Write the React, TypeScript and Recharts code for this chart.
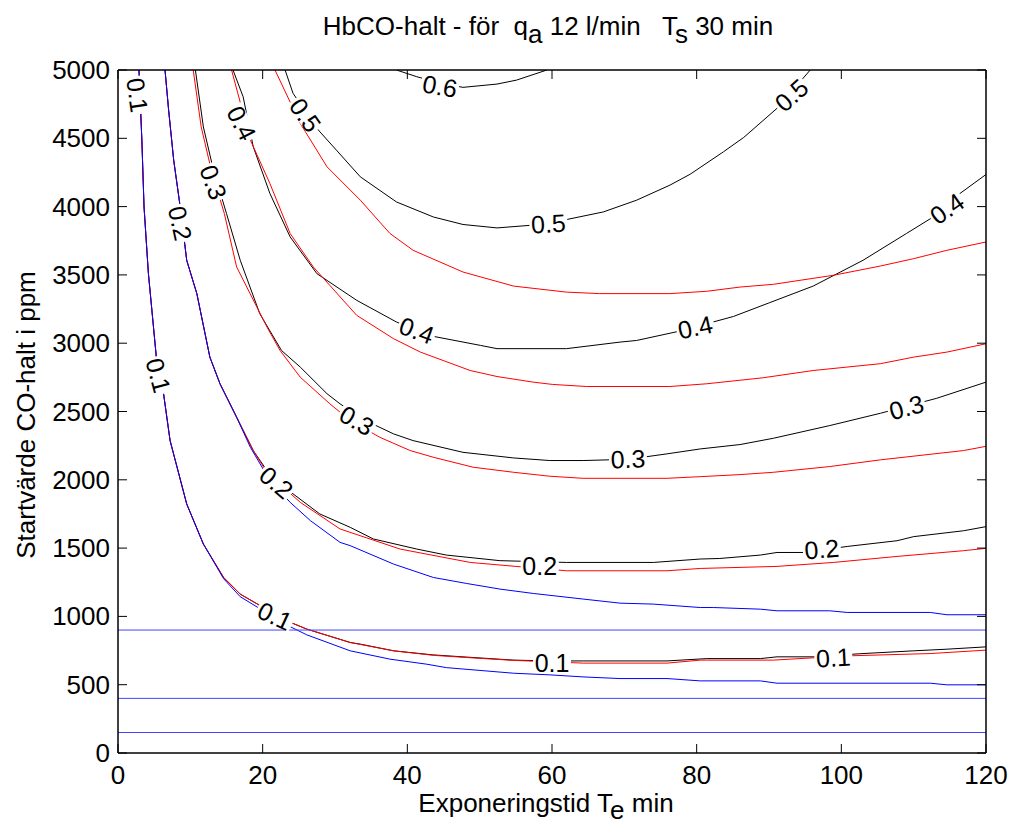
import React from "react";
import { ComposedChart, Line, Scatter, XAxis, YAxis } from "recharts";

const FONT = "Arial, 'Liberation Sans', Helvetica, sans-serif";
const FS = 26;
const LABEL_FS = 25;

type Pt = [number, number];

const X_TICKS = [0, 20, 40, 60, 80, 100, 120];
const Y_TICKS = [0, 500, 1000, 1500, 2000, 2500, 3000, 3500, 4000, 4500, 5000];

// horizontal reference levels (ppm)
const H_LEVELS = [900, 400, 150];

// contour lines, [exposure min, start ppm]
const BLACK_01: Pt[] = [
  [2.9, 5000], [3.3, 4487], [3.6, 3998], [4.2, 3512], [5.3, 2898], [6.3, 2630], [7.2, 2287],
  [9.5, 1823], [11.8, 1530], [14.6, 1285], [16.9, 1163], [20.1, 1065], [23.3, 968], [26.1, 907],
  [32.1, 809], [33.5, 797], [38.1, 748], [43.6, 718], [49.1, 699], [54.7, 680], [59.7, 674],
  [64.3, 674], [75.9, 674], [81.4, 691], [88.8, 691], [91.1, 704], [96.1, 704], [103.0, 728],
  [110.0, 748], [114.6, 760], [120, 777],
];
const RED_01: Pt[] = [
  [2.9, 5000], [3.3, 4487], [3.6, 3998], [4.2, 3512], [5.3, 2898], [6.3, 2630], [7.2, 2287],
  [9.5, 1823], [11.8, 1530], [14.6, 1285], [16.9, 1163], [20.1, 1065], [23.3, 968], [26.1, 907],
  [32.1, 809], [38.1, 748], [43.6, 715], [49.1, 696], [54.7, 678], [64.3, 658], [75.9, 658],
  [80.5, 680], [90.6, 680], [100.8, 711], [112.3, 728], [120, 753],
];
const BLUE_01: Pt[] = [
  [2.9, 5000], [3.3, 4487], [3.6, 3998], [4.2, 3512], [5.3, 2898], [6.3, 2630], [7.2, 2287],
  [9.5, 1823], [11.8, 1530], [14.6, 1276], [16.9, 1144], [20.1, 1041], [23.3, 938], [26.1, 865],
  [32.1, 748], [37.6, 687], [42.7, 650], [45.4, 625], [54.7, 584], [59.7, 572], [64.3, 557],
  [69.4, 545], [75.9, 545], [80.5, 528], [88.8, 528], [91.1, 511], [112.3, 511], [114.6, 499],
  [120, 499],
];

const BLACK_02: Pt[] = [
  [6.5, 5000], [7.0, 4706], [7.7, 4340], [8.6, 3998], [9.5, 3607], [10.9, 3363], [12.7, 2898],
  [14.1, 2703], [16.4, 2458], [18.7, 2214], [20.6, 2067], [24.2, 1897], [27.9, 1750], [32.1, 1652],
  [35.3, 1567], [41.3, 1493], [45.4, 1449], [52.8, 1408], [62.0, 1395], [74.0, 1395], [80.5, 1420],
  [83.2, 1424], [88.8, 1449], [91.1, 1468], [94.8, 1468], [100.8, 1512], [107.7, 1554],
  [110.0, 1584], [116.9, 1627], [120, 1657],
];
const RED_02: Pt[] = [
  [6.5, 5000], [7.0, 4706], [7.7, 4340], [8.6, 3998], [9.5, 3607], [10.9, 3363], [12.7, 2898],
  [14.1, 2703], [16.4, 2458], [18.7, 2214], [20.6, 2053], [25.2, 1835], [30.7, 1640], [39.0, 1493],
  [48.7, 1395], [62.0, 1334], [75.9, 1334], [80.5, 1351], [91.1, 1366], [98.9, 1395],
  [107.7, 1439], [116.9, 1481], [120, 1498],
];
const BLUE_02: Pt[] = [
  [6.5, 5000], [7.0, 4706], [7.7, 4340], [8.6, 3998], [9.5, 3607], [10.9, 3363], [12.7, 2898],
  [14.1, 2703], [16.4, 2458], [18.3, 2238], [21.0, 1994], [23.8, 1835], [26.6, 1701], [30.7, 1542],
  [32.1, 1518], [38.1, 1383], [43.6, 1285], [48.2, 1241], [52.8, 1200], [57.4, 1168], [64.3, 1127],
  [69.4, 1097], [74.0, 1090], [80.5, 1065], [82.3, 1065], [88.8, 1053], [91.1, 1041], [98.4, 1041],
  [100.8, 1029], [112.3, 1029], [114.6, 1012], [120, 1012],
];

const BLACK_03: Pt[] = [
  [10.7, 5000], [11.8, 4584], [13.2, 4267], [15.0, 3949], [16.9, 3607], [19.6, 3216], [22.6, 2947],
  [25.2, 2825], [28.9, 2630], [30.7, 2556], [34.2, 2434], [38.1, 2336], [40.8, 2287], [47.7, 2201],
  [54.7, 2160], [59.7, 2141], [64.3, 2141], [70.5, 2150], [75.9, 2190], [80.5, 2226], [86.0, 2258],
  [90.6, 2304], [98.4, 2397], [105.4, 2487], [113.2, 2597], [120, 2715],
];
const RED_03: Pt[] = [
  [10.4, 5000], [11.5, 4584], [12.9, 4267], [14.7, 3949], [16.4, 3558], [20.6, 3118], [22.4, 2947],
  [25.2, 2751], [29.3, 2556], [32.1, 2434], [36.2, 2311], [40.4, 2214], [43.6, 2165], [49.1, 2092],
  [54.7, 2055], [59.7, 2026], [64.3, 2011], [75.9, 2011], [80.5, 2023], [86.0, 2038], [90.6, 2055],
  [98.4, 2097], [105.4, 2146], [116.9, 2214], [120, 2245],
];

const BLACK_04: Pt[] = [
  [15.9, 5000], [17.3, 4804], [18.7, 4438], [21.0, 4096], [23.8, 3778], [27.5, 3509], [33.0, 3314],
  [38.5, 3155], [43.6, 3050], [50.1, 2984], [52.4, 2960], [62.0, 2960], [69.4, 3008], [71.7, 3020],
  [77.7, 3089], [85.1, 3196], [90.1, 3297], [96.1, 3418], [103.0, 3607], [109.0, 3803],
  [112.7, 3924], [116.4, 4096], [120, 4235],
];
const RED_04: Pt[] = [
  [15.7, 5000], [18.3, 4487], [21.0, 4169], [23.8, 3803], [27.0, 3558], [33.0, 3204], [38.1, 3033],
  [41.8, 2935], [48.7, 2800], [52.4, 2756], [57.4, 2715], [60.1, 2698], [64.8, 2683], [76.3, 2683],
  [81.4, 2703], [89.2, 2747], [96.1, 2800], [105.4, 2850], [110.0, 2898], [114.6, 2935],
  [120, 2996],
];

const BLACK_05: Pt[] = [
  [23.1, 5000], [24.2, 4829], [27.5, 4572], [30.2, 4413], [33.5, 4218], [38.5, 4034], [43.6, 3924],
  [47.7, 3869], [52.4, 3844], [57.0, 3863], [62.0, 3905], [67.1, 3961], [71.7, 4047], [76.3, 4157],
  [79.1, 4237], [83.7, 4401], [86.5, 4506], [91.1, 4719], [95.7, 5000],
];
const RED_05: Pt[] = [
  [21.7, 5000], [25.2, 4609], [28.9, 4291], [33.5, 4047], [37.6, 3803], [40.8, 3680], [47.7, 3521],
  [54.7, 3418], [62.0, 3374], [66.6, 3363], [76.3, 3363], [81.4, 3380], [86.0, 3411], [90.6, 3431],
  [98.9, 3497], [105.4, 3565], [110.0, 3619], [114.6, 3680], [120, 3741],
];

const BLACK_06: Pt[] = [
  [38.5, 5000], [41.3, 4951], [44.5, 4904], [47.7, 4873], [52.4, 4897], [55.1, 4926], [59.3, 5000],
];

// inline contour labels: x, y, text, angle (deg)
const LABELS: [number, number, string, number][] = [
  [2.7, 4816, "0.1", 82],
  [8.6, 3878, "0.2", 78],
  [13.2, 4179, "0.3", 70],
  [17.1, 4611, "0.4", 63],
  [25.9, 4670, "0.5", 55],
  [44.5, 4882, "0.6", 10],
  [59.5, 3876, "0.5", -3],
  [41.3, 3094, "0.4", 20],
  [33.0, 2434, "0.3", 30],
  [70.5, 2153, "0.3", -2],
  [58.3, 1371, "0.2", 0],
  [60.0, 660, "0.1", 0],
  [93.1, 4816, "0.5", -42],
  [114.6, 3986, "0.4", -35],
  [79.8, 3118, "0.4", -12],
  [109.0, 2531, "0.3", -15],
  [97.3, 1493, "0.2", -5],
  [98.9, 699, "0.1", -3],
  [5.6, 2764, "0.1", 75],
  [21.9, 1982, "0.2", 40],
  [21.7, 1004, "0.1", 25],
];

const rows = (pts: Pt[]) => pts.map(([x, y]) => ({ x, y }));
const labelRows = LABELS.map(([x, y, t, a]) => ({ x, y, t, a }));

const BLACK = [BLACK_01, BLACK_02, BLACK_03, BLACK_04, BLACK_05, BLACK_06];
const RED = [RED_01, RED_02, RED_03, RED_04, RED_05];
const BLUE = [BLUE_01, BLUE_02];

function BottomTick({ x, y, payload }: any) {
  return (
    <g>
      <line x1={x} y1={y} x2={x} y2={y - 9} stroke="#000" strokeWidth={1} />
      <text x={x} y={y + 31} textAnchor="middle" fontSize={FS} fontFamily={FONT} fill="#000">
        {payload.value}
      </text>
    </g>
  );
}
function TopTick({ x, y }: any) {
  return <line x1={x} y1={y} x2={x} y2={y + 9} stroke="#000" strokeWidth={1} />;
}
function LeftTick({ x, y, payload }: any) {
  return (
    <g>
      <line x1={x} y1={y} x2={x + 9} y2={y} stroke="#000" strokeWidth={1} />
      <text x={x - 8} y={y + 9} textAnchor="end" fontSize={FS} fontFamily={FONT} fill="#000">
        {payload.value}
      </text>
    </g>
  );
}
function RightTick({ x, y }: any) {
  return <line x1={x} y1={y} x2={x - 9} y2={y} stroke="#000" strokeWidth={1} />;
}

// white patch that cuts the black contour where its label sits
function LabelGap({ cx, cy, payload }: any) {
  return (
    <rect
      x={-19}
      y={-9}
      width={38}
      height={18}
      fill="#fff"
      transform={`translate(${cx},${cy}) rotate(${payload.a})`}
    />
  );
}
function LabelText({ cx, cy, payload }: any) {
  return (
    <text
      transform={`translate(${cx},${cy}) rotate(${payload.a})`}
      y={9}
      textAnchor="middle"
      fontSize={LABEL_FS}
      fontFamily={FONT}
      fill="#000"
    >
      {payload.t}
    </text>
  );
}

export default function App() {
  const axisLine = { stroke: "#000", strokeWidth: 1.5 };
  return (
    <div style={{ position: "absolute", left: 0, top: 0, width: 1011, height: 828, background: "#fff" }}>
      <ComposedChart width={1011} height={828} margin={{ top: 60, right: 15, bottom: 15, left: 18 }}>
        <XAxis
          xAxisId="b"
          type="number"
          dataKey="x"
          domain={[0, 120]}
          ticks={X_TICKS}
          allowDataOverflow
          height={60}
          tickSize={0}
          tickMargin={0}
          axisLine={axisLine}
          tickLine={false}
          tick={<BottomTick />}
        />
        <XAxis
          xAxisId="t"
          orientation="top"
          type="number"
          dataKey="x"
          domain={[0, 120]}
          ticks={X_TICKS}
          allowDataOverflow
          height={10}
          tickSize={0}
          tickMargin={0}
          axisLine={axisLine}
          tickLine={false}
          tick={<TopTick />}
        />
        <YAxis
          yAxisId="l"
          type="number"
          domain={[0, 5000]}
          ticks={Y_TICKS}
          allowDataOverflow
          width={100}
          tickSize={0}
          tickMargin={0}
          axisLine={axisLine}
          tickLine={false}
          tick={<LeftTick />}
        />
        <YAxis
          yAxisId="r"
          orientation="right"
          type="number"
          domain={[0, 5000]}
          ticks={Y_TICKS}
          allowDataOverflow
          width={10}
          tickSize={0}
          tickMargin={0}
          axisLine={axisLine}
          tickLine={false}
          tick={<RightTick />}
        />

        {BLACK.map((pts, i) => (
          <Line
            key={`k${i}`}
            xAxisId="b"
            yAxisId="l"
            data={rows(pts)}
            dataKey="y"
            stroke="#000"
            strokeWidth={1}
            dot={false}
            activeDot={false}
            isAnimationActive={false}
          />
        ))}
        <Scatter
          xAxisId="b"
          yAxisId="l"
          data={labelRows}
          dataKey="y"
          shape={<LabelGap />}
          isAnimationActive={false}
        />
        {RED.map((pts, i) => (
          <Line
            key={`r${i}`}
            xAxisId="b"
            yAxisId="l"
            data={rows(pts)}
            dataKey="y"
            stroke="#ff0000"
            strokeWidth={1}
            dot={false}
            activeDot={false}
            isAnimationActive={false}
          />
        ))}
        {BLUE.map((pts, i) => (
          <Line
            key={`u${i}`}
            xAxisId="b"
            yAxisId="l"
            data={rows(pts)}
            dataKey="y"
            stroke="#0000ff"
            strokeWidth={1}
            dot={false}
            activeDot={false}
            isAnimationActive={false}
          />
        ))}
        {H_LEVELS.map((v) => (
          <Line
            key={`h${v}`}
            xAxisId="b"
            yAxisId="l"
            data={[{ x: 0, y: v }, { x: 120, y: v }]}
            dataKey="y"
            stroke="#4444ff"
            strokeWidth={1}
            dot={false}
            activeDot={false}
            isAnimationActive={false}
          />
        ))}
        <Scatter
          xAxisId="b"
          yAxisId="l"
          data={labelRows}
          dataKey="y"
          shape={<LabelText />}
          isAnimationActive={false}
        />
      </ComposedChart>

      <svg
        width={1011}
        height={828}
        style={{ position: "absolute", left: 0, top: 0, pointerEvents: "none" }}
      >
        <g fontFamily={FONT} fontSize={FS} fill="#000">
          <text x={548} y={35} textAnchor="middle" xmlSpace="preserve">
            <tspan>{"HbCO-halt - för  q"}</tspan>
            <tspan dy={8}>a</tspan>
            <tspan dy={-8}>{" 12 l/min   T"}</tspan>
            <tspan dy={8}>s</tspan>
            <tspan dy={-8}>{" 30 min"}</tspan>
          </text>
          <text x={546} y={812} textAnchor="middle" xmlSpace="preserve">
            <tspan>{"Exponeringstid T"}</tspan>
            <tspan dy={7}>e</tspan>
            <tspan dy={-7}>{" min"}</tspan>
          </text>
          <text transform="translate(35,415) rotate(-90)" textAnchor="middle">
            Startvärde CO-halt i ppm
          </text>
        </g>
      </svg>
    </div>
  );
}
